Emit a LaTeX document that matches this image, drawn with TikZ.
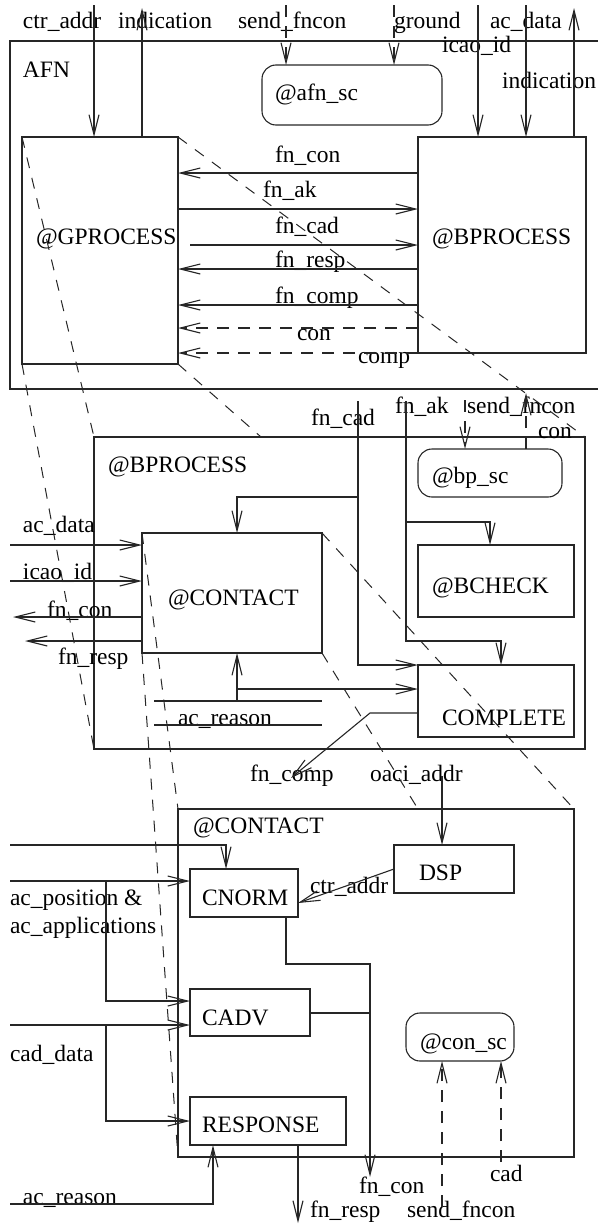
\documentclass[tikz,border=0pt]{standalone}
\usepackage{fontspec}
\setmainfont{Liberation Serif}
\usetikzlibrary{arrows.meta}
\begin{document}
\begin{tikzpicture}[x=1pt,y=-1pt,
  wire/.style={line width=1.1pt, draw=black!85},
  flow/.style={wire, -{Straight Barb[length=20pt,width=10pt]}},
  dflow/.style={flow, dash pattern=on 12pt off 9pt},
  zoomline/.style={line width=1pt, draw=black!85, dash pattern=on 11pt off 10pt},
  box/.style={draw=black!85, line width=1.1pt, rectangle, anchor=north west, inner sep=0pt, outer sep=0pt},
  sbox/.style={box, rounded corners=14pt},
  lbl/.style={anchor=base west, inner sep=0pt, outer sep=0pt, font=\fontsize{23.5}{28}\selectfont},
]
\useasboundingbox (0,0) rectangle (597,1226);

% ---------------- AFN level ----------------
\node[box, minimum width=620pt, minimum height=348pt] (afn) at (10,41) {};
\node[sbox, minimum width=180pt, minimum height=60pt] (afnsc) at (262,65) {};
\node[box, minimum width=156pt, minimum height=227pt] (gp) at (22,137) {};
\node[box, minimum width=168pt, minimum height=216pt] (bp) at (418,137) {};

\node[lbl] (tCtr1) at (23,28) {ctr\_addr};
\node[lbl] (tInd1) at (118,28) {indication};
\node[lbl] (tSend1) at (238,28) {send\_fncon};
\node[lbl] (tGround) at (394,28) {ground};
\node[lbl] (tAcData1) at (490,28) {ac\_data};
\node[lbl] (tIcao1) at (442,52) {icao\_id};
\node[lbl] (tInd2) at (502,88) {indication};
\node[lbl] (tAfn) at (23,77) {AFN};
\node[lbl] (tAfnSc) at (275,100) {@afn\_sc};
\node[lbl] (tGp) at (36,244) {@GPROCESS};
\node[lbl] (tBp) at (432,244) {@BPROCESS};
\node[lbl] (tFnCon1) at (275,162) {fn\_con};
\node[lbl] (tFnAk1) at (263,197) {fn\_ak};
\node[lbl] (tFnCad1) at (275,233) {fn\_cad};
\node[lbl] (tFnResp1) at (275,267) {fn\_resp};
\node[lbl] (tFnComp1) at (275,303) {fn\_comp};
\node[lbl] (tCon1) at (297,340) {con};
\node[lbl] (tComp1) at (358,363) {comp};

\coordinate (cCtr1) at (94,5);
\coordinate (cInd1) at (142,8);
\coordinate (cSend1) at (286,5);
\coordinate (cGround) at (394,5);
\coordinate (cIcao1) at (478,5);
\coordinate (cAcData1) at (526,5);
\coordinate (cInd2) at (574,8);
\coordinate (cCad1) at (190,245);

\draw[flow] (cCtr1) -- (cCtr1 |- gp.north);
\draw[flow] (cInd1 |- gp.north) -- (cInd1);
\draw[dflow] (cSend1) -- (cSend1 |- afnsc.north);
\draw[dflow] (cGround) -- (cGround |- afnsc.north);
\draw[flow] (cIcao1) -- (cIcao1 |- bp.north);
\draw[flow] (cAcData1) -- (cAcData1 |- bp.north);
\draw[flow] (cInd2 |- bp.north) -- (cInd2);

\draw[flow] (bp.west |- 0,173) -- (gp.east |- 0,173);
\draw[flow] (gp.east |- 0,209) -- (bp.west |- 0,209);
\draw[flow] (cCad1) -- (bp.west |- cCad1);
\draw[flow] (bp.west |- 0,269) -- (gp.east |- 0,269);
\draw[flow] (bp.west |- 0,305) -- (gp.east |- 0,305);
\draw[dflow] (bp.west |- 0,328) -- (gp.east |- 0,328);
\draw[dflow] (bp.west |- 0,353) -- (gp.east |- 0,353);

% ---------------- @BPROCESS level ----------------
\node[box, minimum width=491pt, minimum height=312pt] (bpx) at (94,437) {};
\node[sbox, minimum width=144pt, minimum height=48pt] (bpsc) at (418,449) {};
\node[box, minimum width=180pt, minimum height=120pt] (ct) at (142,533) {};
\node[box, minimum width=156pt, minimum height=72pt] (bc) at (418,545) {};
\node[box, minimum width=156pt, minimum height=72pt] (cp) at (418,665) {};

\node[lbl] (tBpx) at (108,472) {@BPROCESS};
\node[lbl] (tAcData2) at (23,532) {ac\_data};
\node[lbl] (tIcao2) at (23,579) {icao\_id};
\node[lbl] (tFnCon2) at (47,617) {fn\_con};
\node[lbl] (tFnResp2) at (58,664) {fn\_resp};
\node[lbl] (tCt) at (168,605) {@CONTACT};
\node[lbl] (tReason2) at (178,725) {ac\_reason};
\node[lbl] (tFnCad2) at (311,425) {fn\_cad};
\node[lbl] (tFnAk2) at (395,413) {fn\_ak};
\node[lbl] (tSend2) at (467,413) {send\_fncon};
\node[lbl] (tCon2) at (538,438) {con};
\node[lbl] (tBpSc) at (432,483) {@bp\_sc};
\node[lbl] (tBc) at (432,593) {@BCHECK};
\node[lbl] (tCp) at (442,725) {COMPLETE};
\node[lbl] (tFnComp2) at (250,781) {fn\_comp};
\node[lbl] (tOaci) at (370,781) {oaci\_addr};

\coordinate (cAcData2) at (10,545);
\coordinate (cIcao2) at (10,581);
\coordinate (cFnCon2) at (13,617);
\coordinate (cFnResp2) at (25,641);
\coordinate (cCad2) at (358,401);
\coordinate (jCad2) at (358,497);
\coordinate (cAk2) at (406,401);
\coordinate (jAk2) at (406,522);
\coordinate (cSend2) at (465,400);
\coordinate (cCon2) at (526,393);
\coordinate (cUp) at (237,701);
\coordinate (jUp) at (237,689);
\coordinate (rA1) at (154,701);
\coordinate (rA2) at (322,701);
\coordinate (rB1) at (154,725);
\coordinate (rB2) at (322,725);
\coordinate (kComp) at (370,713);
\coordinate (cComp) at (291,778);

\draw[flow] (cAcData2) -- (ct.west |- cAcData2);
\draw[flow] (cIcao2) -- (ct.west |- cIcao2);
\draw[flow] (ct.west |- cFnCon2) -- (cFnCon2);
\draw[flow] (ct.west |- cFnResp2) -- (cFnResp2);
\draw[flow] (cCad2) |- (cp.west |- 0,665);
\draw[flow] (jCad2) -| (ct.north -| 237,0);
\draw[flow] (cAk2) |- (501,641) -- (cp.north -| 501,0);
\draw[flow] (jAk2) -| (bc.north -| 490,0);
\draw[dflow] (cSend2) -- (cSend2 |- bpsc.north);
\draw[dflow] (cCon2 |- bpsc.north) -- (cCon2);
\draw[flow] (cUp) -- (cUp |- ct.south);
\draw[flow] (jUp) -- (cp.west |- jUp);
\draw[wire] (rA1) -- (rA2);
\draw[wire] (rB1) -- (rB2);
\draw[flow] (cp.west |- kComp) -- (kComp) -- (cComp);

% ---------------- @CONTACT level ----------------
\node[box, minimum width=396pt, minimum height=348pt] (cx) at (178,809) {};
\node[box, minimum width=120pt, minimum height=48pt] (dsp) at (394,845) {};
\node[box, minimum width=108pt, minimum height=48pt] (cn) at (190,869) {};
\node[box, minimum width=120pt, minimum height=47pt] (cv) at (190,989) {};
\node[box, minimum width=156pt, minimum height=48pt] (rs) at (190,1097) {};
\node[sbox, minimum width=108pt, minimum height=48pt] (cs) at (406,1013) {};

\node[lbl] (tCx) at (193,833) {@CONTACT};
\node[lbl] (tDsp) at (419,880) {DSP};
\node[lbl] (tCtr3) at (310,893) {ctr\_addr};
\node[lbl] (tCn) at (202,905) {CNORM};
\node[lbl] (tPos) at (10,905) {ac\_position \&};
\node[lbl] (tApps) at (10,933) {ac\_applications};
\node[lbl] (tCv) at (202,1025) {CADV};
\node[lbl] (tCadData) at (10,1061) {cad\_data};
\node[lbl] (tRs) at (202,1132) {RESPONSE};
\node[lbl] (tReason3) at (23,1204) {ac\_reason};
\node[lbl] (tCs) at (420,1049) {@con\_sc};
\node[lbl] (tCad3) at (490,1181) {cad};
\node[lbl] (tFnCon3) at (359,1193) {fn\_con};
\node[lbl] (tFnResp3) at (310,1217) {fn\_resp};
\node[lbl] (tSend3) at (407,1217) {send\_fncon};

\coordinate (cOaci) at (442,776);
\coordinate (cIn1) at (10,845);
\coordinate (cIn2) at (10,881);
\coordinate (jIn2) at (106,881);
\coordinate (kCn) at (370,964);
\coordinate (cFnCon3) at (370,1177);
\coordinate (cCadData) at (10,1025);
\coordinate (jCadData) at (106,1025);
\coordinate (cReason3) at (10,1204);
\coordinate (cFnResp3) at (298,1223);
\coordinate (cSend3) at (442,1207);
\coordinate (cCad3) at (501,1162);

\draw[flow] (cOaci) -- (cOaci |- dsp.north);
\draw[flow] (dsp.west |- 0,869) -- (cn.east |- 0,903);
\draw[flow] (cIn1) -| (cn.north -| 226,0);
\draw[flow] (cIn2) -- (cn.west |- cIn2);
\draw[flow] (jIn2) |- (cv.west |- 0,1001);
\draw[flow] (cn.south -| 286,0) |- (kCn) -- (cFnCon3);
\draw[wire] (cv.east |- 0,1013) -- (kCn |- 0,1013);
\draw[flow] (cCadData) -- (cv.west |- cCadData);
\draw[flow] (jCadData) |- (rs.west |- 0,1121);
\draw[flow] (cReason3) -| (rs.south -| 213,0);
\draw[flow] (rs.south -| cFnResp3) -- (cFnResp3);
\draw[dflow] (cSend3) -- (cSend3 |- cs.south);
\draw[dflow] (cCad3) -- (cCad3 |- cs.south);

% ---------------- zoom projection lines ----------------
\draw[zoomline] (gp.north west) -- (bpx.north west);
\draw[zoomline] (gp.south west) -- (bpx.south west);
\draw[zoomline] (gp.north east) -- (bpx.north east);
\draw[zoomline] (gp.south east) -- (bpx.north -| 261,0);
\draw[zoomline] (ct.north west) -- (cx.north west);
\draw[zoomline] (ct.south west) -- (cx.south west);
\draw[zoomline] (ct.north east) -- (cx.north east);
\draw[zoomline] (ct.south east) -- (cx.north -| 418,0);
\end{tikzpicture}
\end{document}
